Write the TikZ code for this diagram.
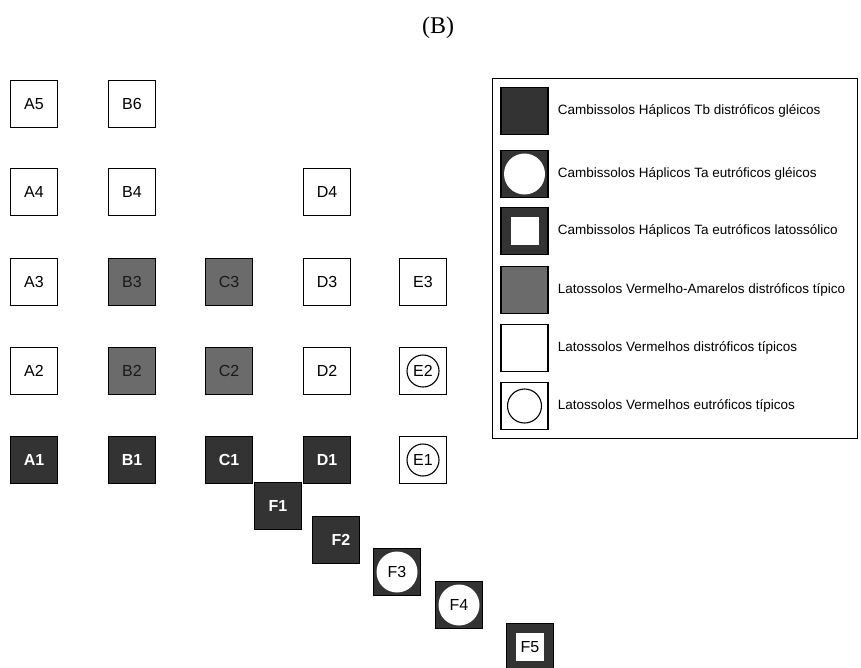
\documentclass[tikz,border=0pt]{standalone}
\usepackage{fontspec}
\setmainfont{Liberation Sans}
\newfontfamily\titlefont{Liberation Serif}
\usepackage{tikz}
\usetikzlibrary{positioning}

\definecolor{soildark}{gray}{0.2}
\definecolor{soilgray}{gray}{0.42}

\begin{document}
\begin{tikzpicture}[x=1pt, y=-1pt,
    cell/.style={draw, line width=1.3pt, minimum size=47pt, inner sep=0pt,
        font=\fontsize{16}{16}\selectfont},
    dark/.style={cell, fill=soildark, text=white,
        font=\fontsize{16}{16}\selectfont\bfseries},
    gray/.style={cell, fill=soilgray, text=black!90},
    ring/.style={cell, path picture={\draw[line width=1.1pt]
        (path picture bounding box.center) circle (16pt);}},
    darkring/.style={cell, fill=soildark, path picture={\fill[white]
        (path picture bounding box.center) circle (20.5pt);}},
    darkcore/.style={cell, fill=soildark, path picture={\fill[white]
        ([shift={(-14pt,-14pt)}]path picture bounding box.center) rectangle ++(28pt,28pt);}},
    legtext/.style={inner sep=0pt, font=\fontsize{13.5}{14}\selectfont}]
    \useasboundingbox (0,0) rectangle (861,667);

    \node[font=\titlefont\fontsize{24}{24}\selectfont] (title) at (438,28) {(B)};

    % column A
    \node[cell] (A5) at (34,104) {A5};
    \node[cell] (A4) at (34,192) {A4};
    \node[cell] (A3) at (34,282) {A3};
    \node[cell] (A2) at (34,371) {A2};
    \node[dark] (A1) at (34,460) {A1};
    % column B
    \node[cell] (B6) at (132,104) {B6};
    \node[cell] (B4) at (132,192) {B4};
    \node[gray] (B3) at (132,282) {B3};
    \node[gray] (B2) at (132,371) {B2};
    \node[dark] (B1) at (132,460) {B1};
    % column C
    \node[gray] (C3) at (229,282) {C3};
    \node[gray] (C2) at (229,371) {C2};
    \node[dark] (C1) at (229,460) {C1};
    % column D
    \node[cell] (D4) at (327,192) {D4};
    \node[cell] (D3) at (327,282) {D3};
    \node[cell] (D2) at (327,371) {D2};
    \node[dark] (D1) at (327,460) {D1};
    % column E
    \node[cell] (E3) at (423,282) {E3};
    \node[ring] (E2) at (423,371) {E2};
    \node[ring] (E1) at (423,460) {E1};
    % diagonal F
    \node[dark] (F1) at (278,506) {F1};
    \node[dark] (F2) at (336,540) {\hspace{10pt}F2};
    \node[darkring] (F3) at (397,572) {F3};
    \node[darkring] (F4) at (459,605) {F4};
    \node[darkcore] (F5) at (530,647) {F5};

    % legend
    \draw[line width=1pt] (492,78) rectangle (857,438);
    \node[dark] (K1) at (524.5,111) {};
    \node[darkring] (K2) at (524.5,174) {};
    \node[darkcore] (K3) at (524.5,231) {};
    \node[gray] (K4) at (524.5,290) {};
    \node[cell] (K5) at (524.5,348) {};
    \node[ring, path picture={\draw[line width=1.1pt]
        (path picture bounding box.center) circle (17pt);}] (K6) at (524.5,406) {};
    \node[legtext, right=9pt of K1] (L1) {Cambissolos Háplicos Tb distróficos gléicos};
    \node[legtext, right=9pt of K2] (L2) {Cambissolos Háplicos Ta eutróficos gléicos};
    \node[legtext, right=9pt of K3] (L3) {Cambissolos Háplicos Ta eutróficos latossólico};
    \node[legtext, right=9pt of K4] (L4) {Latossolos Vermelho-Amarelos distróficos típico};
    \node[legtext, right=9pt of K5] (L5) {Latossolos Vermelhos distróficos típicos};
    \node[legtext, right=9pt of K6] (L6) {Latossolos Vermelhos eutróficos típicos};
\end{tikzpicture}
\end{document}
